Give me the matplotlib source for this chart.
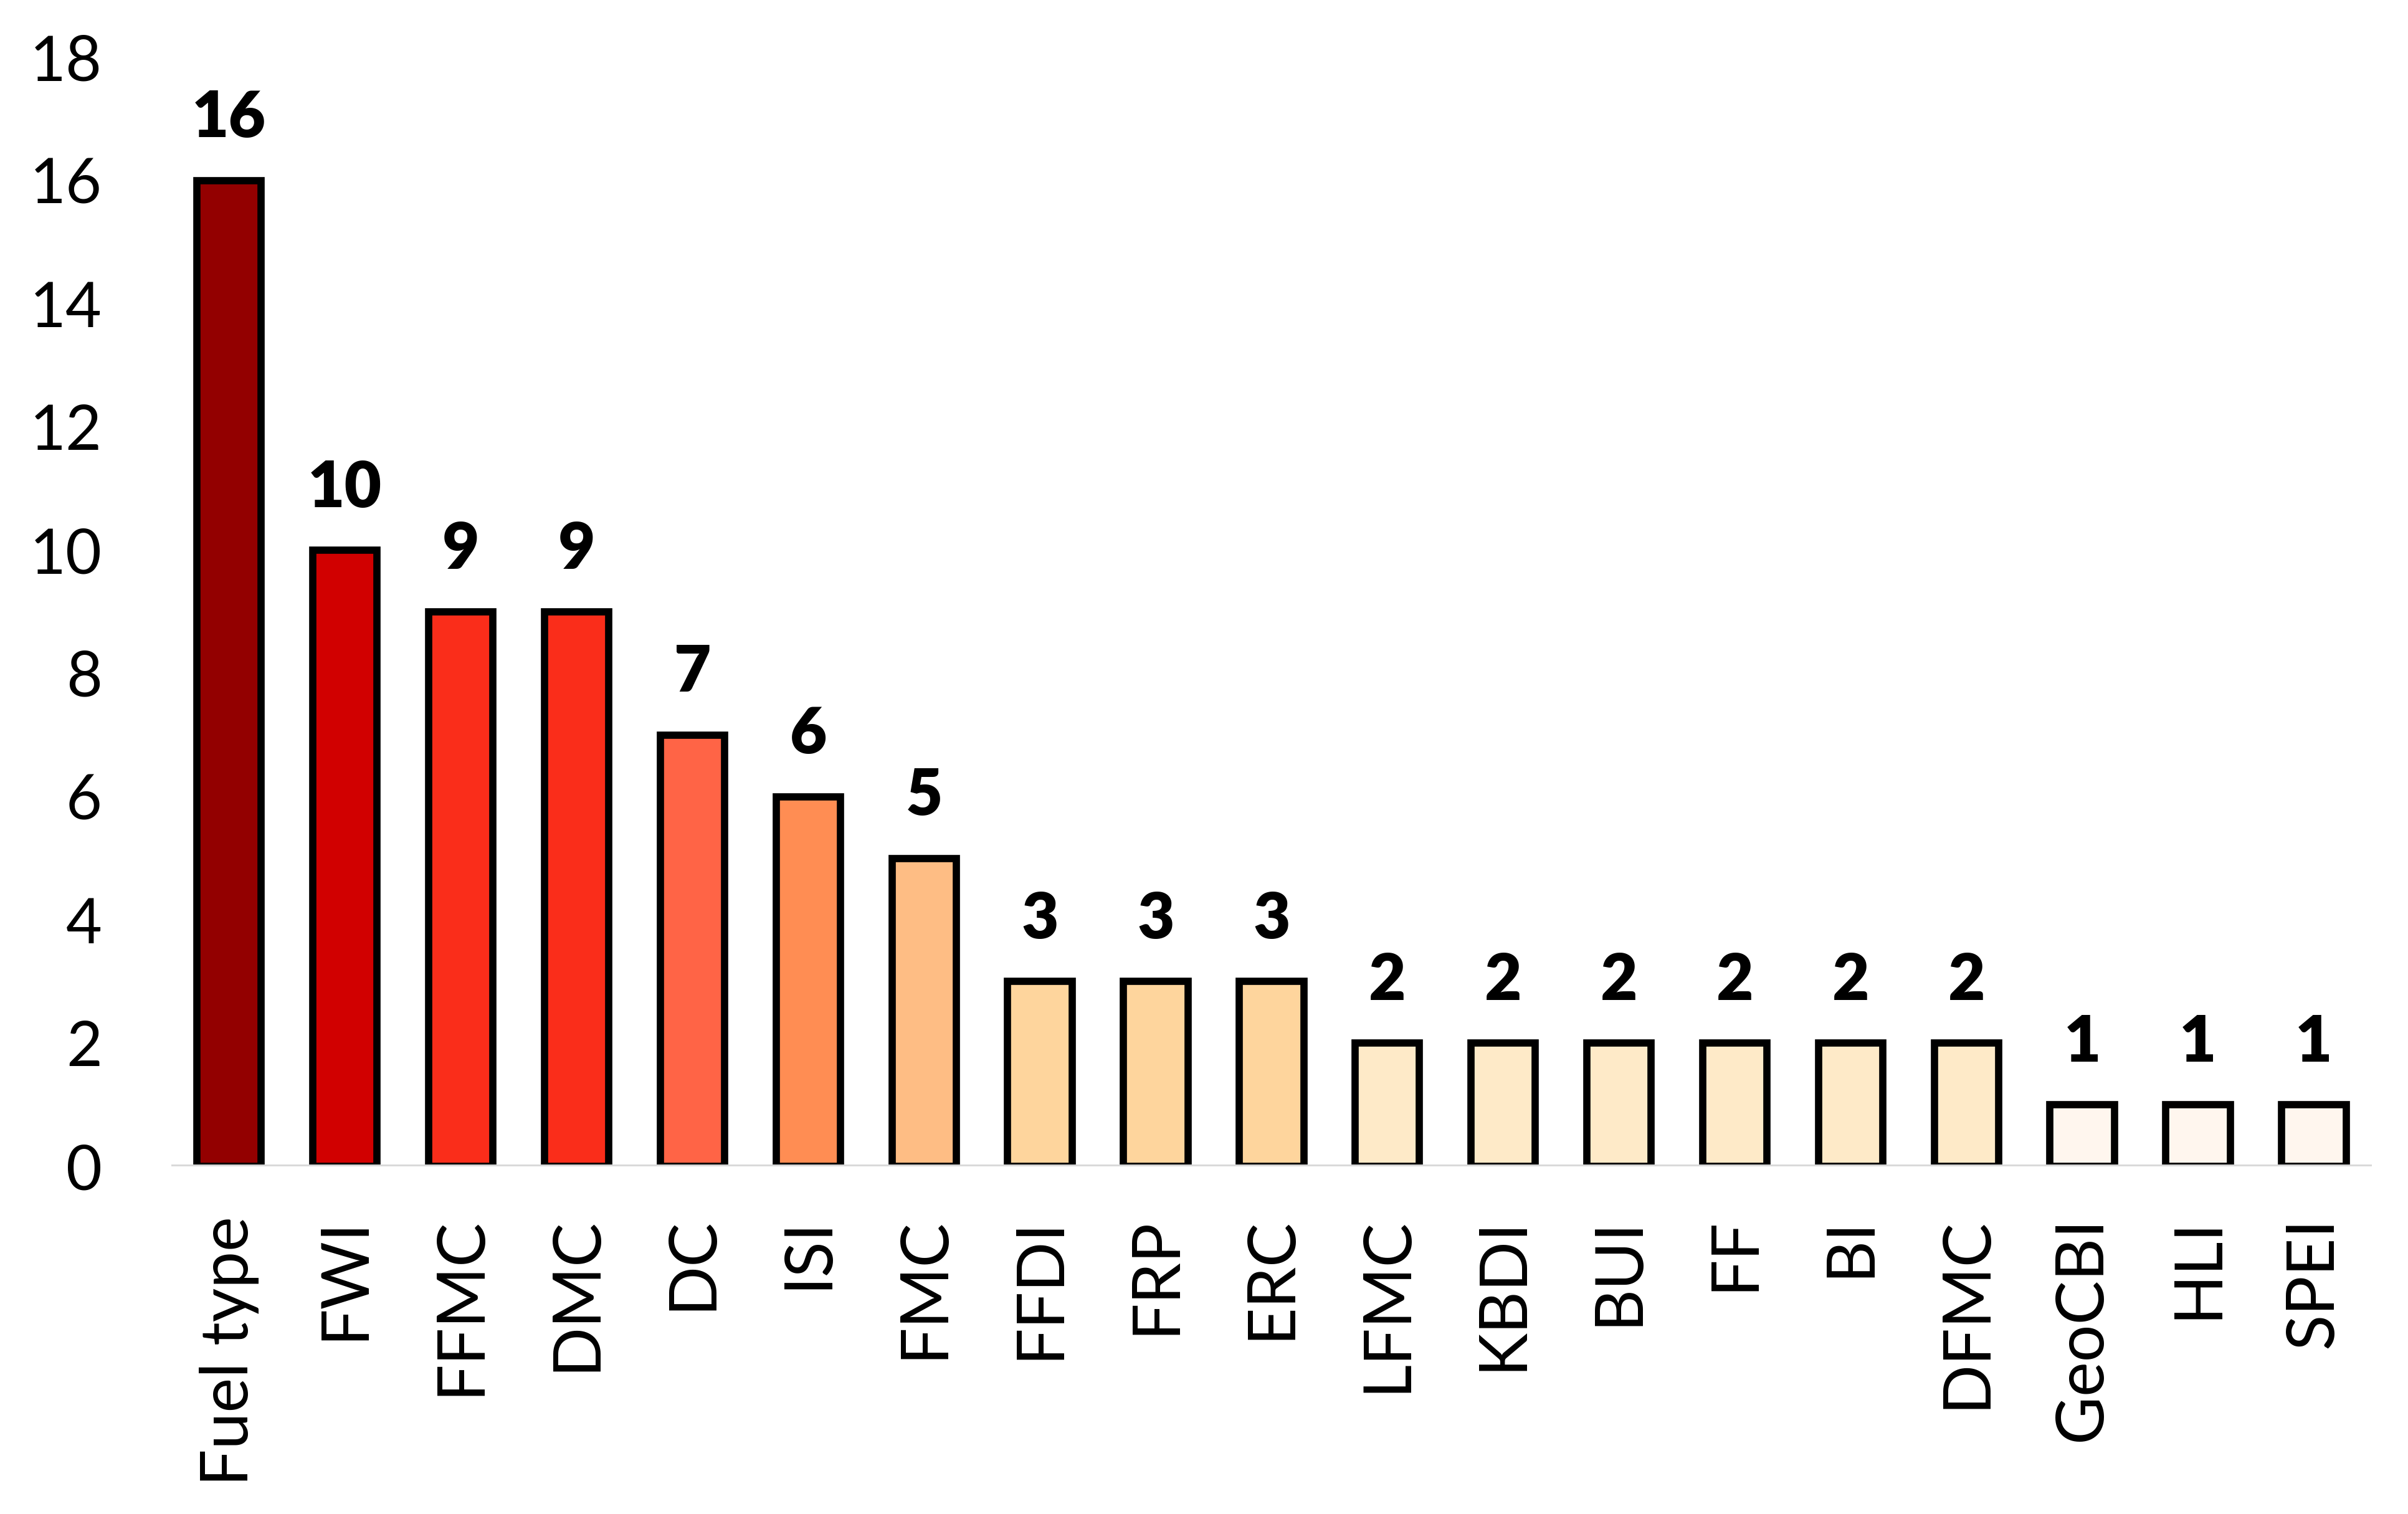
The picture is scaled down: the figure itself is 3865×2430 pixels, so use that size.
import numpy as np
import matplotlib
matplotlib.use("Agg")
import matplotlib.pyplot as plt

# data
categories = ["Fuel type", "FWI", "FFMC", "DMC", "DC", "ISI", "FMC", "FFDI", "FRP",
              "ERC", "LFMC", "KBDI", "BUI", "FF", "BI", "DFMC", "GeoCBI", "HLI", "SPEI"]
counts = [16, 10, 9, 9, 7, 6, 5, 3, 3, 3, 2, 2, 2, 2, 2, 2, 1, 1, 1]
bar_colors = ["#930000", "#d10000", "#fa2d1a", "#fa2d1a", "#ff6446", "#ff8d53", "#febd84",
              "#fed59d", "#fed59d", "#fed59d", "#feeac8", "#feeac8", "#feeac8", "#feeac8",
              "#feeac8", "#feeac8", "#fff6ee", "#fff6ee", "#fff6ee"]
y_ticks = [0, 2, 4, 6, 8, 10, 12, 14, 16, 18]

plt.rcParams['font.family'] = ['Lato', 'DejaVu Sans']

fig = plt.figure(figsize=(19.33, 12.15), dpi=200)
ax = fig.add_axes([0.0711, 0.2296, 0.9847 - 0.0711, 0.9621 - 0.2296])

x = np.arange(len(categories))
ax.bar(x, counts, width=0.556, color=bar_colors, edgecolor="black", linewidth=4.2, zorder=2)
ax.axhline(0, color="#d9d9d9", linewidth=2.5, zorder=3)

# value labels above each bar
for xi, v in zip(x, counts):
    ax.annotate(str(v), (xi, v), xytext=(0, 25), textcoords="offset points",
                ha="center", va="baseline", fontsize=37, fontweight="heavy")

ax.set_xlim(-0.5, len(categories) - 0.5)
ax.set_ylim(0, 18)
ax.set_yticks(y_ticks)
ax.set_xticks(x)
ax.set_xticklabels(categories, rotation=90, fontsize=38)
ax.tick_params(axis="y", length=0, pad=40, labelsize=36)
ax.tick_params(axis="x", length=0, pad=29)
for s in ax.spines.values():
    s.set_visible(False)

fig.savefig("out.png", dpi=200)
